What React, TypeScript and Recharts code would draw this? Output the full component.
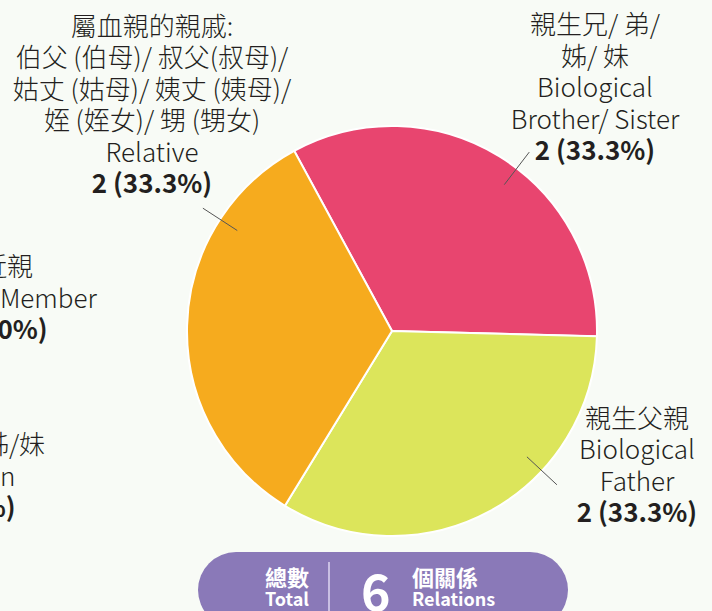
import React from 'react';
import { PieChart, Pie, Cell } from 'recharts';

// chart data
const relationLabels: string[][] = [
  ['親生兄/ 弟/', '姊/ 妹', 'Biological', 'Brother/ Sister'],
  ['親生父親', 'Biological', 'Father'],
  ['屬血親的親戚:', '伯父 (伯母)/ 叔父(叔母)/', '姑丈 (姑母)/ 姨丈 (姨母)/', '姪 (姪女)/ 甥 (甥女)', 'Relative'],
  ['近親', 'Family Member'],
  ['表兄弟姊/妹', 'Cousin'],
];
const relationCounts = [2, 2, 2, 0, 0];
const sliceColors = ['#e8456f', '#dce55b', '#f6ab1e', '#8a79b8', '#4fb3c8'];

const totalCount = 6;

// label layout (leader line angle + text block offset from pie centre)
const labelLayout = [
  { angle: 52.5, dx: 203, dy: -171 },
  { angle: -43, dx: 245, dy: 191 },
  { angle: 147, dx: -240, dy: -138 },
  { angle: null, dx: -385, dy: 8 },
  { angle: null, dx: -417, dy: 186 },
];

const data = relationLabels.map((lines, i) => ({
  name: lines.join(' '),
  lines,
  value: relationCounts[i],
}));

const FONT = '"Noto Sans CJK TC", "Noto Sans", sans-serif';
const LIGHT_FONT = '"Noto Sans CJK TC Light", "Noto Sans CJK TC", "Noto Sans", sans-serif';
const LINE_H = 31.5;
const RAD = Math.PI / 180;

function renderLabel(props: any) {
  const { cx, cy, outerRadius, index, value, percent } = props;
  const layout = labelLayout[index];
  const lines: string[] = data[index].lines;
  const x = cx + layout.dx;
  const baseY = cy + layout.dy;
  const pct = percent === 0 ? '0%' : `${(percent * 100).toFixed(1)}%`;
  let leader = null;
  if (layout.angle !== null) {
    const a = layout.angle * RAD;
    const r1 = outerRadius * 0.9;
    const r2 = outerRadius * 1.1;
    leader = (
      <line
        x1={cx + r1 * Math.cos(a)}
        y1={cy - r1 * Math.sin(a)}
        x2={cx + r2 * Math.cos(a)}
        y2={cy - r2 * Math.sin(a)}
        stroke="#555"
        strokeWidth={1}
      />
    );
  }
  return (
    <g key={`lbl-${index}`}>
      {leader}
      <text textAnchor="middle" fontSize={26} fill="#231f20">
        {lines.map((ln, i) => (
          <tspan
            key={i}
            x={x}
            y={baseY - (lines.length - i) * LINE_H}
            fontFamily={LIGHT_FONT}
            fontWeight={300}
          >
            {ln}
          </tspan>
        ))}
        <tspan x={x} y={baseY} fontFamily={FONT} fontWeight={700}>
          {`${value} (${pct})`}
        </tspan>
      </text>
    </g>
  );
}

export default function App() {
  return (
    <div
      style={{
        position: 'absolute',
        left: 0,
        top: 0,
        width: 712,
        height: 611,
        overflow: 'hidden',
        background: '#f8fbf6',
        fontFamily: FONT,
      }}
    >
      <PieChart width={712} height={611} margin={{ top: 0, right: 0, bottom: 0, left: 0 }}>
        <Pie
          data={data}
          dataKey="value"
          nameKey="name"
          cx={392}
          cy={331}
          outerRadius={205}
          startAngle={118.5}
          endAngle={-241.5}
          stroke="#ffffff"
          strokeWidth={2}
          label={renderLabel}
          labelLine={false}
          isAnimationActive={false}
        >
          {data.map((d, i) => (
            <Cell key={d.name} fill={sliceColors[i]} />
          ))}
        </Pie>
      </PieChart>

      <div
        style={{
          position: 'absolute',
          left: 198,
          top: 552,
          width: 370,
          height: 76,
          borderRadius: 38,
          background: '#8a79b8',
          color: '#fff',
        }}
      >
        <div style={{ position: 'absolute', left: 62, top: 13, width: 54, textAlign: 'center', fontWeight: 700, lineHeight: 1 }}>
          <div style={{ fontSize: 22 }}>總數</div>
          <div style={{ fontSize: 18, marginTop: 2 }}>Total</div>
        </div>
        <div style={{ position: 'absolute', left: 130, top: 10, width: 2, height: 70, background: '#c9bfe3' }} />
        <div style={{ position: 'absolute', left: 163, top: 12, fontSize: 50, fontWeight: 700, lineHeight: 1 }}>
          {totalCount}
        </div>
        <div style={{ position: 'absolute', left: 214, top: 13, fontWeight: 700, lineHeight: 1 }}>
          <div style={{ fontSize: 22 }}>個關係</div>
          <div style={{ fontSize: 18, marginTop: 2 }}>Relations</div>
        </div>
      </div>
    </div>
  );
}
